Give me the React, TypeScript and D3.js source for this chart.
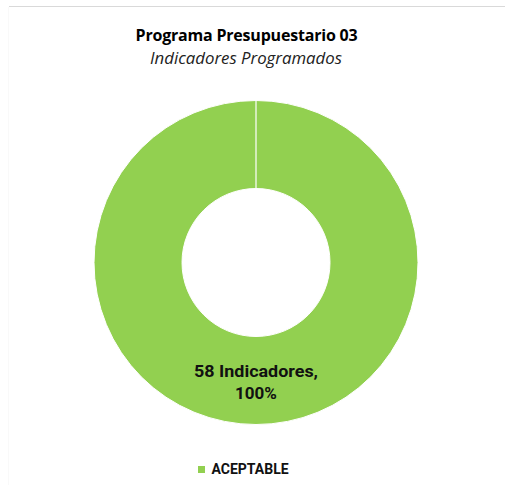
import React from "react";
import * as d3 from "d3";

const categories: string[] = ["ACEPTABLE"];
const values: number[] = [58];
const colors: string[] = ["#92D050"];
const titleText = "Programa Presupuestario 03";
const subtitleText = "Indicadores Programados";
const valueUnit = "Indicadores";

const W = 505;
const H = 485;

export default function App() {
  const cx = 256;
  const cy = 262.5;
  const outerR = 162;
  const innerR = 74;

  const total = d3.sum(values);
  const pie = d3.pie<number>().sort(null).value((d) => d);
  const arcs = pie(values);
  const arc = d3.arc<d3.PieArcDatum<number>>().innerRadius(innerR).outerRadius(outerR);
  const pct = d3.format(".0%");

  const legendX = 198;
  const legendY = 466;

  return (
    <svg
      width={W}
      height={H}
      style={{ position: "absolute", left: 0, top: 0, background: "#fff" }}
    >
      <line x1={9} x2={505} y1={6.5} y2={6.5} stroke="#d9d9d9" strokeWidth={1} />
      <line x1={8.5} x2={8.5} y1={7} y2={H} stroke="#f9f9f9" strokeWidth={1} />
      <text
        x={246.5}
        y={41}
        textAnchor="middle"
        fontFamily="'Open Sans', sans-serif"
        fontWeight="bold"
        fontSize={16}
        letterSpacing={-0.2}
        fill="#000"
      >
        {titleText}
      </text>
      <text
        x={246}
        y={63.5}
        textAnchor="middle"
        fontFamily="'Open Sans', sans-serif"
        fontStyle="italic"
        fontSize={16.8}
        fill="#222"
      >
        {subtitleText}
      </text>
      <g transform={`translate(${cx},${cy})`}>
        {arcs.map((a, i) => (
          <path key={i} d={arc(a) || ""} fill={colors[i]} stroke="#fff" strokeWidth={1} />
        ))}
        {arcs.map((a, i) => {
          const ang = a.startAngle - Math.PI / 2;
          return (
            <line
              key={"s" + i}
              x1={Math.cos(ang) * innerR}
              y1={Math.sin(ang) * innerR}
              x2={Math.cos(ang) * outerR}
              y2={Math.sin(ang) * outerR}
              stroke="#fff"
              strokeWidth={1.2}
            />
          );
        })}
        {arcs.map((a, i) => (
          <text
            key={"l" + i}
            textAnchor="middle"
            fontFamily="Roboto, sans-serif"
            fontWeight="bold"
            fontSize={17}
            fill="#111"
          >
            <tspan x={0} y={114.5} textLength={124} lengthAdjust="spacingAndGlyphs">
              {`${values[i]} ${valueUnit},`}
            </tspan>
            <tspan x={0} y={136}>
              {pct(values[i] / total)}
            </tspan>
          </text>
        ))}
      </g>
      {categories.map((c, i) => (
        <g key={c} transform={`translate(${legendX},${legendY + i * 20})`}>
          <rect x={0} y={0} width={7} height={7} fill={colors[i]} />
          <text
            x={13.5}
            y={7.5}
            fontFamily="Roboto, sans-serif"
            fontWeight="bold"
            fontSize={14}
            fill="#111"
          >
            {c}
          </text>
        </g>
      ))}
    </svg>
  );
}
